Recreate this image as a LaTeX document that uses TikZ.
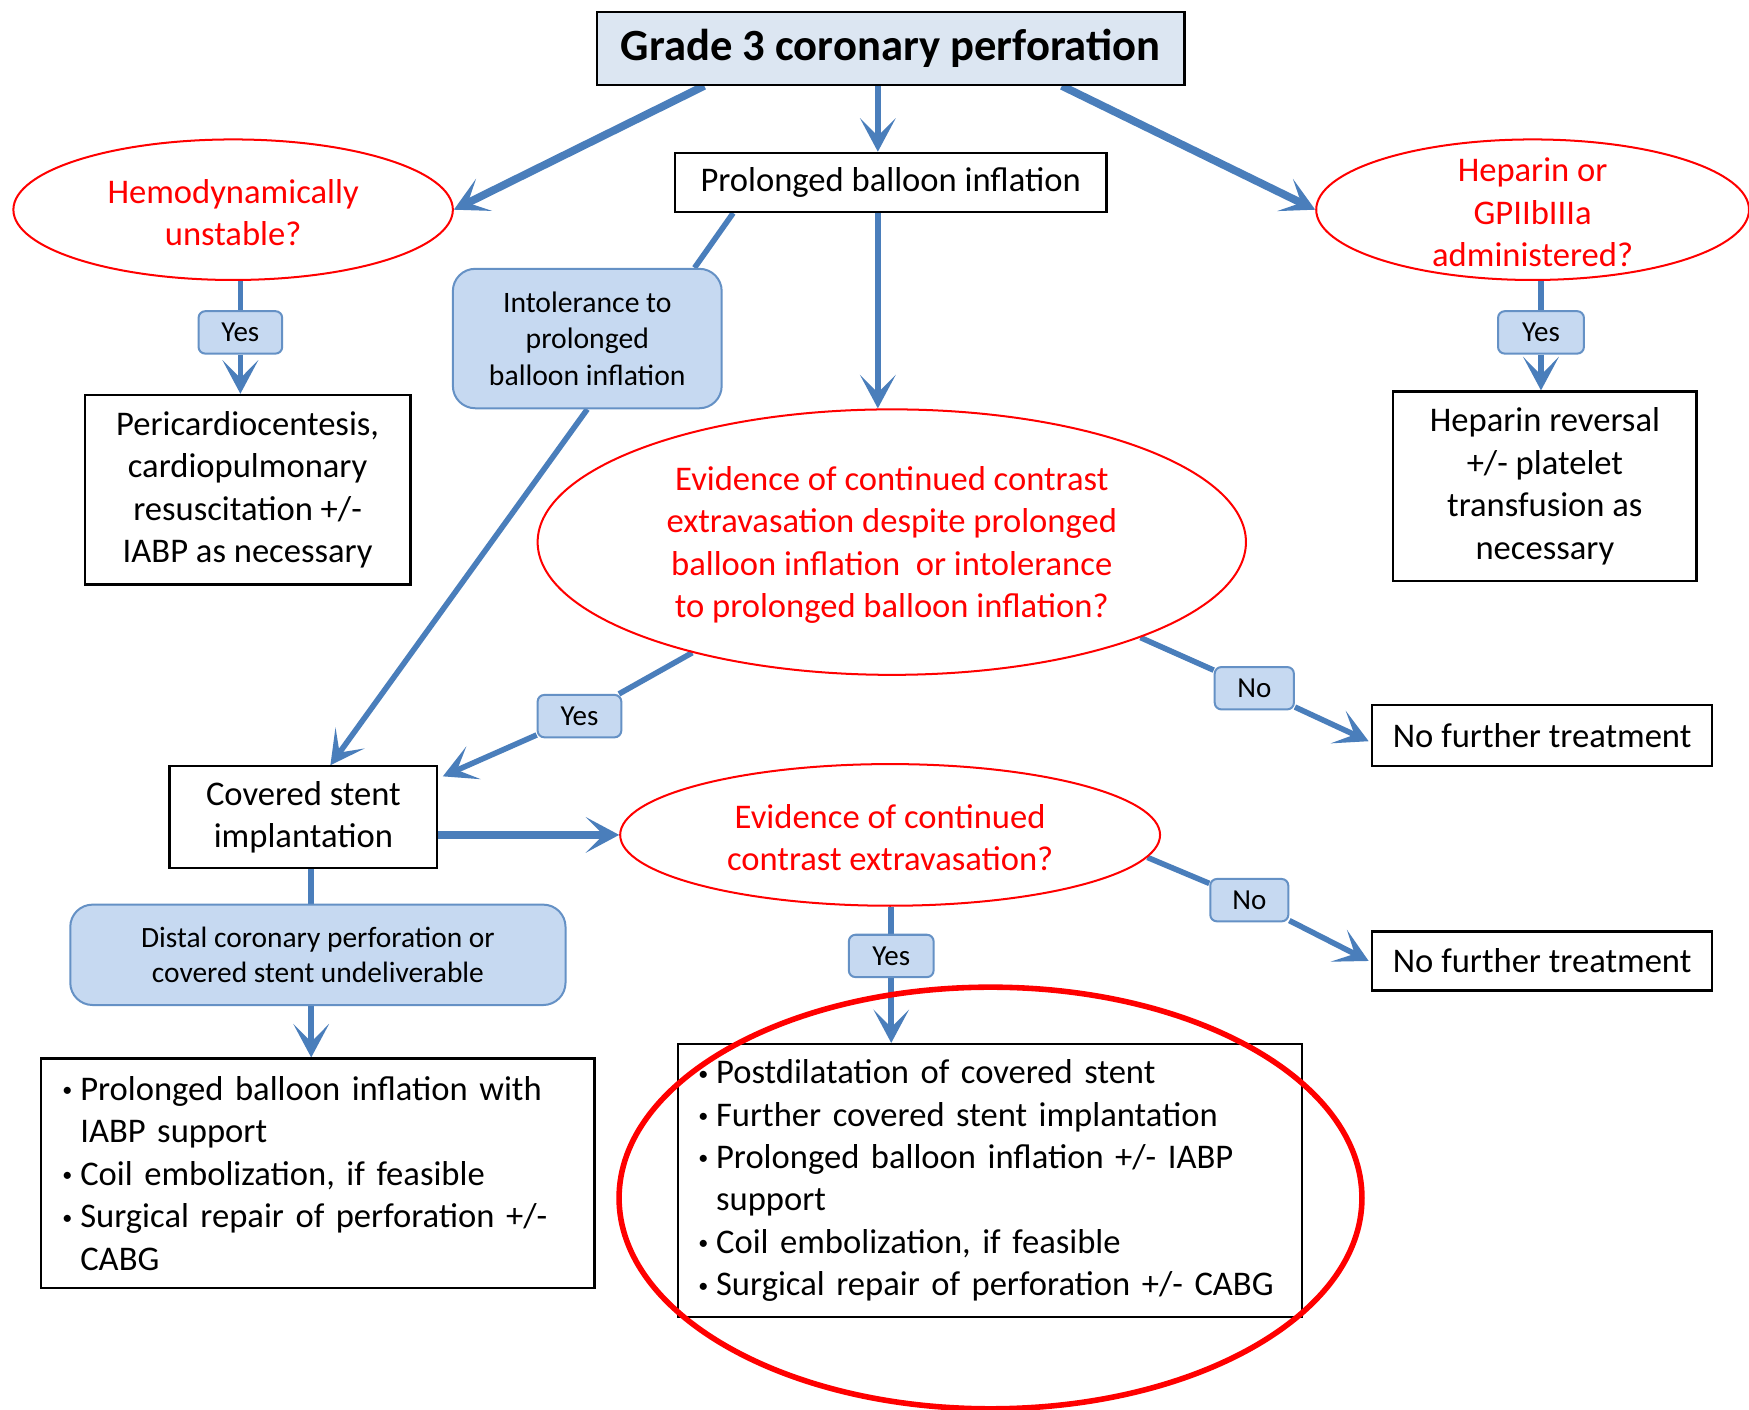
\documentclass[tikz,border=0pt]{standalone}
\usepackage{fontspec}
\setmainfont{Carlito}
\usetikzlibrary{shapes.geometric,arrows.meta,calc,backgrounds}
\definecolor{lineblue}{RGB}{74,126,187}
\definecolor{lblfill}{RGB}{198,217,241}
\definecolor{titlefill}{RGB}{220,230,242}
\definecolor{qred}{RGB}{255,0,0}
\newcommand{\bul}{\makebox[8pt][l]{\raisebox{1.6pt}{\fontsize{9}{9}\selectfont\textbullet}}}
\newcommand{\ind}{\hspace*{8pt}}
\begin{document}
\begin{tikzpicture}[x=0.5pt,y=-0.5pt,
 font=\fontsize{15.5}{19}\selectfont,
 box/.style={draw=black, line width=1pt, fill=white, align=center, inner sep=2pt},
 qell/.style={ellipse, draw=qred, line width=0.9pt, inner sep=0pt},
 qtxt/.style={text=qred, align=center, inner sep=0pt, yshift=-1.2pt},
 lbl/.style={draw=lineblue!85, line width=0.9pt, fill=lblfill, rounded corners=3pt, minimum height=19pt, inner xsep=2pt, font=\fontsize{13}{15}\selectfont},
 note/.style={draw=lineblue!85, line width=0.9pt, fill=lblfill, rounded corners=10pt, align=center},
 conn/.style={draw=lineblue, line width=2.5pt},
 arr/.style={conn, -{Stealth[length=15pt,width=16pt,inset=8pt]}},
 bigarr/.style={arr, line width=3.5pt},
 bulbox/.style={draw=black, line width=1pt, fill=white, align=left},
]
\useasboundingbox (0,0) rectangle (1568,1264);

% nodes
\node[box, fill=titlefill, minimum width=263.5pt, minimum height=32.5pt, font=\fontsize{20}{24}\selectfont\bfseries] (title) at (798.5,43.5) {Grade 3 coronary perforation};
\node[box, minimum width=193.5pt, minimum height=26.5pt] (prol) at (798.5,163.5) {Prolonged balloon inflation};
\node[qell, minimum width=197pt, minimum height=63pt, label={[qtxt]center:{Hemodynamically\\unstable?}}] (hemo) at (209,188) {};
\node[qell, minimum width=194pt, minimum height=63pt, label={[qtxt]center:{Heparin or\\GPIIbIIIa\\administered?}}] (hep) at (1374,188) {};
\node[lbl, minimum width=37.5pt] (yes1) at (215.5,298) {Yes};
\node[lbl, minimum width=38.5pt] (yes2) at (1381.5,298) {Yes};
\node[box, minimum width=146pt, minimum height=85pt] (peri) at (222,439) {Pericardiocentesis,\\cardiopulmonary\\resuscitation +/-\\IABP as necessary};
\node[box, minimum width=136pt, minimum height=85pt] (hrev) at (1385,436) {Heparin reversal\\+/- platelet\\transfusion as\\necessary};
\node[note, minimum width=120.5pt, minimum height=62.5pt, font=\fontsize{13.3}{16.3}\selectfont] (intol) at (526.5,303.5) {Intolerance to\\prolonged\\balloon inflation};
\node[qell, minimum width=317.5pt, minimum height=119pt, label={[qtxt]center:{Evidence of continued contrast\\extravasation despite prolonged\\balloon inflation\ \ or intolerance\\to prolonged balloon inflation?}}] (big) at (799.5,486) {};
\node[lbl, minimum width=37.5pt] (yesA) at (519.5,642) {Yes};
\node[lbl, minimum width=35.5pt] (noA) at (1124.5,617) {No};
\node[box, minimum width=152.5pt, minimum height=27.5pt] (nft1) at (1382.5,659.5) {No further treatment};
\node[box, minimum width=120pt, minimum height=45.5pt] (cov) at (272,732.5) {Covered stent\\implantation};
\node[qell, minimum width=242pt, minimum height=63.5pt, label={[qtxt]center:{Evidence of continued\\contrast extravasation?}}] (ell2) at (798,748.5) {};
\node[lbl, minimum width=35pt] (noB) at (1120,807) {No};
\node[box, minimum width=152.5pt, minimum height=26.5pt] (nft2) at (1382.5,861.5) {No further treatment};
\node[note, minimum width=222pt, minimum height=45pt, font=\fontsize{13.2}{15.5}\selectfont] (distal) at (285,856) {Distal coronary perforation or\\covered stent undeliverable};
\node[lbl, minimum width=38pt] (yesB) at (799,857) {Yes};
\node[bulbox, text width=229pt, inner xsep=9.5pt, minimum height=103pt] (lb) at (285,1052) {\bul Prolonged balloon inflation with\\\ind IABP support\\\bul Coil embolization, if feasible\\\bul Surgical repair of perforation +/-\\\ind CABG};
\node[bulbox, text width=261.5pt, inner xsep=9pt, minimum height=122.5pt] (rb) at (887.5,1058.5) {\bul Postdilatation of covered stent\\\bul Further covered stent implantation\\\bul Prolonged balloon inflation +/- IABP\\\ind support\\\bul Coil embolization, if feasible\\\bul Surgical repair of perforation +/- CABG};
\coordinate (vx) at (787,0);
\coordinate (cx) at (279,0);

% connectors
\begin{scope}[on background layer]
\fill[white] (0,0) rectangle (1568,1264);
\draw[bigarr] ($(title.south west)!0.184!(title.south east)$) -- (hemo.east);
\draw[arr] (title.south -| vx) -- (prol.north -| vx);
\draw[bigarr] ($(title.south west)!0.79!(title.south east)$) -- (hep.west);
\draw[conn] (hemo.south -| yes1) -- (yes1);
\draw[arr] (yes1) -- (yes1 |- peri.north);
\draw[conn] (hep.south -| yes2) -- (yes2);
\draw[arr] (yes2) -- (yes2 |- hrev.north);
\draw[conn] ($(prol.south west)!0.137!(prol.south east)$) -- ($(intol.north west)!0.896!(intol.north east)$);
\draw[arr] (intol.south) -- ($(cov.north west)!0.6!(cov.north east)$);
\draw[arr] (prol.south -| vx) -- (big.north -| vx);
\draw[conn] (big.209) -- (yesA);
\draw[arr] (yesA) -- ($(cov.north east)+(4,10)$);
\draw[conn] (big.339) -- (noA);
\draw[arr] (noA) -- ($(nft1.west)+(-2,5)$);
\draw[bigarr] (cov.east |- ell2.west) -- (ell2.west);
\draw[conn] (cov.south -| cx) -- (distal.north -| cx);
\draw[arr] (distal.south -| cx) -- (lb.north -| cx);
\draw[conn] (ell2.355) -- (noB);
\draw[arr] (noB) -- ($(nft2.west)+(-2,0)$);
\draw[conn] (ell2.south -| yesB) -- (yesB);
\draw[arr] (yesB) -- (yesB |- rb.north);
\end{scope}

% highlight
\node[ellipse, draw=qred, line width=2.5pt, minimum width=333pt, minimum height=189pt, inner sep=0pt] (hl) at (888,1074) {};
\end{tikzpicture}
\end{document}
